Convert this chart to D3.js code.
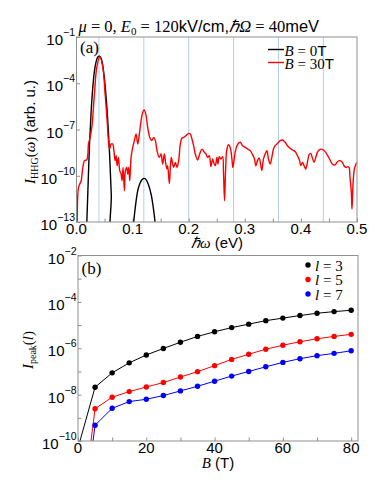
<!DOCTYPE html>
<html>
<head>
<meta charset="utf-8">
<script src="https://cdn.jsdelivr.net/npm/d3@7"></script>
<style>
  body { margin: 0; background: #fff; }
  svg { display: block; }
</style>
</head>
<body>
<div id="app"></div>
<script>
// ---- data (log10 of intensity) ----
var harmonicEnergies = [0.04, 0.12, 0.2, 0.28, 0.36, 0.44];

var b0Energy = [0.017, 0.020, 0.023, 0.026, 0.029, 0.032, 0.035, 0.038, 0.041, 0.044, 0.047, 0.050, 0.053, 0.056, 0.059, 0.062, 0.065,
  0.100, 0.102, 0.105, 0.109, 0.113, 0.117, 0.1205, 0.124, 0.128, 0.133, 0.137, 0.140, 0.142];
var b0LogI = [-14.5, -11.3, -8.1, -5.9, -4.3, -3.2, -2.6, -2.3, -2.25, -2.4, -2.9, -3.8, -5.0, -6.6, -8.6, -11.2, -14.2,
  -14, -13, -12, -11.0, -10.5, -10.25, -10.17, -10.25, -10.55, -11.2, -12.1, -13, -14];

var b30Energy = [0.000, 0.0012, 0.0036, 0.0083, 0.0113, 0.0142, 0.0184, 0.0214, 0.0243, 0.0273, 0.0320, 0.0362, 0.0415, 0.0469,
  0.0510, 0.0546, 0.0575, 0.0593, 0.0617, 0.0646, 0.0664, 0.0688, 0.0706, 0.0724, 0.0747, 0.0771, 0.0795, 0.0813, 0.0830,
  0.0854, 0.0872, 0.0896, 0.0913, 0.0931, 0.0949, 0.0973, 0.1002, 0.1032, 0.1062, 0.1091, 0.1121, 0.1151, 0.1180, 0.1204,
  0.1234, 0.1269, 0.1305, 0.1340, 0.1376, 0.1406, 0.1435, 0.1477, 0.1507, 0.1536, 0.1566, 0.1590, 0.1613, 0.1625, 0.1655,
  0.1673, 0.1690, 0.1714, 0.1732, 0.1762, 0.1791, 0.1821, 0.1851, 0.1880, 0.1910, 0.1951, 0.1999, 0.2028, 0.2058, 0.2088,
  0.2117, 0.2159, 0.2195, 0.2236, 0.2278, 0.2307, 0.2337, 0.2367, 0.2396, 0.2426, 0.2450, 0.2474, 0.2503, 0.2521, 0.2544,
  0.2574, 0.2604, 0.2621, 0.2639, 0.2657, 0.2681, 0.2710, 0.2740, 0.2770, 0.2787, 0.2811, 0.2841, 0.2877, 0.2918, 0.2960,
  0.3007, 0.3055, 0.3096, 0.3138, 0.3173, 0.3197, 0.3227, 0.3256, 0.3286, 0.3304, 0.3333, 0.3363, 0.3393, 0.3422, 0.3452,
  0.3482, 0.3511, 0.3541, 0.3583, 0.3630, 0.3672, 0.3719, 0.3761, 0.3808, 0.3850, 0.3897, 0.3939, 0.3974, 0.3998, 0.4027,
  0.4056, 0.4086, 0.4116, 0.4146, 0.4176, 0.4205, 0.4235, 0.4265, 0.4294, 0.4324, 0.4359, 0.4401, 0.4442, 0.4478, 0.4520,
  0.4561, 0.4609, 0.4650, 0.4698, 0.4739, 0.4769, 0.4804, 0.4834, 0.4858, 0.4875, 0.4899, 0.4911, 0.4929, 0.4953, 0.4982, 0.5000];
var b30LogI = [-13.5, -12.9, -10.75, -10.32, -9.46, -9.02, -8.96, -7.94, -7.51, -6.86, -4.69, -2.96, -2.27, -2.96,
  -4.69, -6.43, -7.94, -8.27, -7.94, -7.94, -8.27, -9.02, -8.70, -9.35, -8.81, -9.67, -9.89, -10.32, -9.46,
  -10.97, -9.67, -9.46, -9.89, -9.46, -10.32, -8.81, -8.16, -7.72, -7.29, -7.94, -7.29, -6.43, -5.89, -5.73,
  -5.99, -6.86, -7.51, -7.72, -7.51, -7.72, -8.37, -8.81, -8.59, -9.24, -8.59, -9.2, -9.56, -9.35, -10.50,
  -9.46, -8.81, -9.24, -9.46, -9.13, -9.46, -9.02, -7.94, -7.55, -7.51, -7.40, -7.25, -7.29, -7.62, -8.05,
  -8.59, -8.98, -8.59, -8.27, -8.48, -8.59, -8.81, -8.70, -9.41, -8.91, -9.19, -9.35, -8.81, -9.24, -8.76,
  -8.91, -8.76, -9.89, -11.62, -9.67, -8.27, -7.99, -8.16, -8.91, -9.46, -8.91, -8.27, -7.94, -7.83, -8.05,
  -8.16, -8.27, -8.37, -8.63, -8.91, -9.35, -9.02, -8.85, -9.35, -9.67, -8.91, -8.59, -8.37, -8.91, -9.24,
  -8.81, -8.27, -8.05, -7.90, -7.72, -7.68, -7.83, -8.05, -8.22, -8.33, -8.42, -8.70, -8.98, -9.35, -9.13,
  -9.35, -9.57, -9.13, -8.63, -8.55, -8.85, -9.13, -8.81, -8.48, -8.33, -8.27, -8.33, -8.48, -8.70, -8.98,
  -9.24, -9.30, -9.09, -9.02, -9.13, -9.35, -9.46, -9.41, -9.46, -10.11, -11.08, -12.16, -10.54, -9.57, -9.24, -9.13];

var fieldB = [0, 5, 10, 15, 20, 25, 30, 35, 40, 45, 50, 55, 60, 65, 70, 75, 80];
var peakL3 = [-10.3, -7.68, -7.06, -6.63, -6.29, -6.01, -5.74, -5.49, -5.29, -5.11, -4.96, -4.81, -4.70, -4.59, -4.49, -4.42, -4.36];
var peakL5 = [-14.4, -8.61, -8.11, -7.87, -7.67, -7.48, -7.24, -7.01, -6.75, -6.48, -6.26, -6.04, -5.87, -5.72, -5.59, -5.49, -5.40];
var peakL7 = [-15.0, -9.32, -8.59, -8.30, -8.20, -8.04, -7.84, -7.64, -7.42, -7.20, -7.00, -6.80, -6.61, -6.45, -6.32, -6.22, -6.11];

var topYTicks = [-1, -4, -7, -10, -13];
var topXTicks = [0, 0.1, 0.2, 0.3, 0.4, 0.5];
var botYTicks = [-2, -4, -6, -8, -10];
var botXTicks = [0, 20, 40, 60, 80];

// ---- layout ----
var width = 382, height = 484;
var SANS = "'Liberation Sans', Arial, sans-serif";
var SERIF = "'Liberation Serif', 'Times New Roman', serif";
var frameColor = "#8f8f8f";

var svg = d3.select("#app").append("svg")
  .attr("width", width).attr("height", height)
  .style("background-color", "#ffffff");

var xA = d3.scaleLinear().domain([0, 0.5]).range([76.5, 357]);
var yA = d3.scaleLog().domain([1e-13, 1e-1]).range([222, 37]);
var xB = d3.scaleLinear().domain([0, 82]).range([78, 358]);
var yB = d3.scaleLog().domain([1e-10, 1e-2]).range([441, 255.5]);

function pow10(v) { return Math.pow(10, v); }

// clip paths
var defs = svg.append("defs");
defs.append("clipPath").attr("id", "clipA").append("rect")
  .attr("x", xA.range()[0]).attr("y", yA.range()[1])
  .attr("width", xA.range()[1] - xA.range()[0]).attr("height", yA.range()[0] - yA.range()[1]);
defs.append("clipPath").attr("id", "clipB").append("rect")
  .attr("x", xB.range()[0]).attr("y", yB.range()[1])
  .attr("width", xB.range()[1] - xB.range()[0]).attr("height", yB.range()[0] - yB.range()[1]);

// label "10^n"
function powLabel(g, x, y, n) {
  var t = g.append("text").attr("x", x).attr("y", y)
    .attr("text-anchor", "end").style("font-family", SANS).style("font-size", "15px");
  t.append("tspan").text("10");
  t.append("tspan").attr("dy", -9).style("font-size", "10.5px").text("\u2212" + Math.abs(n));
}

// ===== panel (a) =====
var gA = svg.append("g");

// harmonic guide lines
gA.append("g").selectAll("line").data(harmonicEnergies).enter().append("line")
  .attr("x1", d => xA(d)).attr("x2", d => xA(d))
  .attr("y1", yA.range()[1]).attr("y2", yA.range()[0])
  .attr("stroke", "#b3cfe5").attr("stroke-width", 1);

// axes (inward ticks)
gA.append("g").attr("transform", "translate(0," + yA.range()[0] + ")")
  .call(d3.axisBottom(xA).tickValues(d3.range(0, 0.501, 0.05)).tickSize(-3.5).tickFormat(""))
  .call(g => g.select(".domain").remove())
  .selectAll("line").attr("stroke", frameColor);
gA.append("g").attr("transform", "translate(" + xA.range()[0] + ",0)")
  .call(d3.axisLeft(yA).tickValues(topYTicks.map(pow10)).tickSize(-3.5).tickFormat(""))
  .call(g => g.select(".domain").remove())
  .selectAll("line").attr("stroke", frameColor);

var lineA = d3.line().curve(d3.curveCatmullRom.alpha(0.5))
  .x(d => xA(d[0])).y(d => yA(pow10(d[1])));

gA.append("path").datum(d3.zip(b0Energy, b0LogI))
  .attr("clip-path", "url(#clipA)")
  .attr("d", lineA).attr("fill", "none").attr("stroke", "#000").attr("stroke-width", 1.4);
gA.append("path").datum(d3.zip(b30Energy, b30LogI))
  .attr("clip-path", "url(#clipA)")
  .attr("d", lineA).attr("fill", "none").attr("stroke", "#ff0000").attr("stroke-width", 1.4);

gA.append("rect").attr("x", xA.range()[0]).attr("y", yA.range()[1])
  .attr("width", xA.range()[1] - xA.range()[0]).attr("height", yA.range()[0] - yA.range()[1])
  .attr("fill", "none").attr("stroke", frameColor).attr("stroke-width", 1);

topYTicks.forEach(n => powLabel(gA, xA.range()[0] - 1.5, yA(pow10(n)) + 8, n));
gA.append("g").selectAll("text").data(topXTicks).enter().append("text")
  .attr("x", d => xA(d)).attr("y", 233.5).attr("text-anchor", "middle")
  .style("font-family", SANS).style("font-size", "15px")
  .text(d => d3.format(".1f")(d));

// title
var title = gA.append("text").attr("x", 78.5).attr("y", 31.5)
  .style("font-family", SERIF).style("font-size", "16.5px");
title.append("tspan").style("font-style", "italic").text("\u03bc");
title.append("tspan").text(" = 0, ");
title.append("tspan").style("font-style", "italic").text("E");
title.append("tspan").attr("dy", 3).style("font-size", "11px").text("0");
title.append("tspan").attr("dy", -3).text(" = 120");
title.append("tspan").style("font-family", SANS).text("kV/cm,");
title.append("tspan").style("font-style", "italic").text("\u210fΩ");
title.append("tspan").text(" = 40");
title.append("tspan").style("font-family", SANS).text("meV");

gA.append("text").attr("x", 80).attr("y", 52.5)
  .style("font-family", SERIF).style("font-size", "17px").text("(a)");

// legend (a)
var legA = [{ b: "0", c: "#000", y: 49.5 }, { b: "30", c: "#ff0000", y: 62.5 }];
legA.forEach(function (d) {
  gA.append("line").attr("x1", 268).attr("x2", 284).attr("y1", d.y).attr("y2", d.y)
    .attr("stroke", d.c).attr("stroke-width", 1.4);
  var t = gA.append("text").attr("x", 284.5).attr("y", d.y + 6.5)
    .style("font-family", SERIF).style("font-size", "15px");
  t.append("tspan").style("font-style", "italic").text("B");
  t.append("tspan").text(" = " + d.b);
  t.append("tspan").style("font-family", SANS).text("T");
});

// axis labels (a)
var xlA = gA.append("text").attr("x", 217).attr("y", 248).attr("text-anchor", "middle")
  .style("font-family", SERIF).style("font-size", "15px");
xlA.append("tspan").style("font-style", "italic").text("\u210f\u03c9");
xlA.append("tspan").style("font-family", SANS).text(" (eV)");

var ylA = gA.append("text").attr("transform", "translate(35,132) rotate(-90)")
  .attr("text-anchor", "middle").style("font-family", SERIF).style("font-size", "15px");
ylA.append("tspan").style("font-style", "italic").text("I");
ylA.append("tspan").attr("dy", 3).style("font-size", "10px").text("HHG");
ylA.append("tspan").attr("dy", -3).text("(");
ylA.append("tspan").style("font-style", "italic").text("\u03c9");
ylA.append("tspan").text(")");
ylA.append("tspan").style("font-family", SANS).text(" (arb. u.)");

// ===== panel (b) =====
var gB = svg.append("g");

gB.append("g").attr("transform", "translate(0," + yB.range()[0] + ")")
  .call(d3.axisBottom(xB).tickValues(d3.range(0, 81, 10)).tickSize(-3.5).tickFormat(""))
  .call(g => g.select(".domain").remove())
  .selectAll("line").attr("stroke", frameColor);
gB.append("g").attr("transform", "translate(" + xB.range()[0] + ",0)")
  .call(d3.axisLeft(yB).tickValues(d3.range(-10, -1.5, 1).map(pow10)).tickSize(-3.5).tickFormat(""))
  .call(g => g.select(".domain").remove())
  .selectAll("line").attr("stroke", frameColor);

var series = [
  { l: 3, vals: peakL3, c: "#000000" },
  { l: 5, vals: peakL5, c: "#ff0000" },
  { l: 7, vals: peakL7, c: "#0000ff" }
];
var lineB = d3.line().x(d => xB(d[0])).y(d => yB(pow10(d[1])));

series.forEach(function (s) {
  var pts = d3.zip(fieldB, s.vals);
  gB.append("path").datum(pts).attr("clip-path", "url(#clipB)")
    .attr("d", lineB).attr("fill", "none").attr("stroke", s.c).attr("stroke-width", 1);
  gB.append("g").attr("clip-path", "url(#clipB)").selectAll("circle").data(pts).enter().append("circle")
    .attr("cx", d => xB(d[0])).attr("cy", d => yB(pow10(d[1])))
    .attr("r", 2.7).attr("fill", s.c);
});

gB.append("rect").attr("x", xB.range()[0]).attr("y", yB.range()[1])
  .attr("width", xB.range()[1] - xB.range()[0]).attr("height", yB.range()[0] - yB.range()[1])
  .attr("fill", "none").attr("stroke", frameColor).attr("stroke-width", 1);

botYTicks.forEach(n => powLabel(gB, 76.5, yB(pow10(n)) + 8, n));
gB.append("g").selectAll("text").data(botXTicks).enter().append("text")
  .attr("x", d => xB(d)).attr("y", 453).attr("text-anchor", "middle")
  .style("font-family", SANS).style("font-size", "15px")
  .text(d => d);

gB.append("text").attr("x", 81.5).attr("y", 274)
  .style("font-family", SERIF).style("font-size", "17px").text("(b)");

// legend (b)
series.forEach(function (s, i) {
  var y = 265 + i * 14.5;
  gB.append("circle").attr("cx", 308).attr("cy", y).attr("r", 2.7).attr("fill", s.c);
  var t = gB.append("text").attr("x", 315).attr("y", y + 5.5)
    .style("font-family", SERIF).style("font-size", "15px");
  t.append("tspan").style("font-style", "italic").text("l");
  t.append("tspan").text(" = " + s.l);
});

var xlB = gB.append("text").attr("x", 218).attr("y", 468).attr("text-anchor", "middle")
  .style("font-family", SERIF).style("font-size", "15px");
xlB.append("tspan").style("font-style", "italic").text("B");
xlB.append("tspan").style("font-family", SANS).text(" (T)");

var ylB = gB.append("text").attr("transform", "translate(33,350) rotate(-90)")
  .attr("text-anchor", "middle").style("font-family", SERIF).style("font-size", "15px");
ylB.append("tspan").style("font-style", "italic").text("I");
ylB.append("tspan").attr("dy", 3).style("font-size", "10px").text("peak");
ylB.append("tspan").attr("dy", -3).text("(");
ylB.append("tspan").style("font-style", "italic").text("l");
ylB.append("tspan").text(")");
</script>
</body>
</html>
